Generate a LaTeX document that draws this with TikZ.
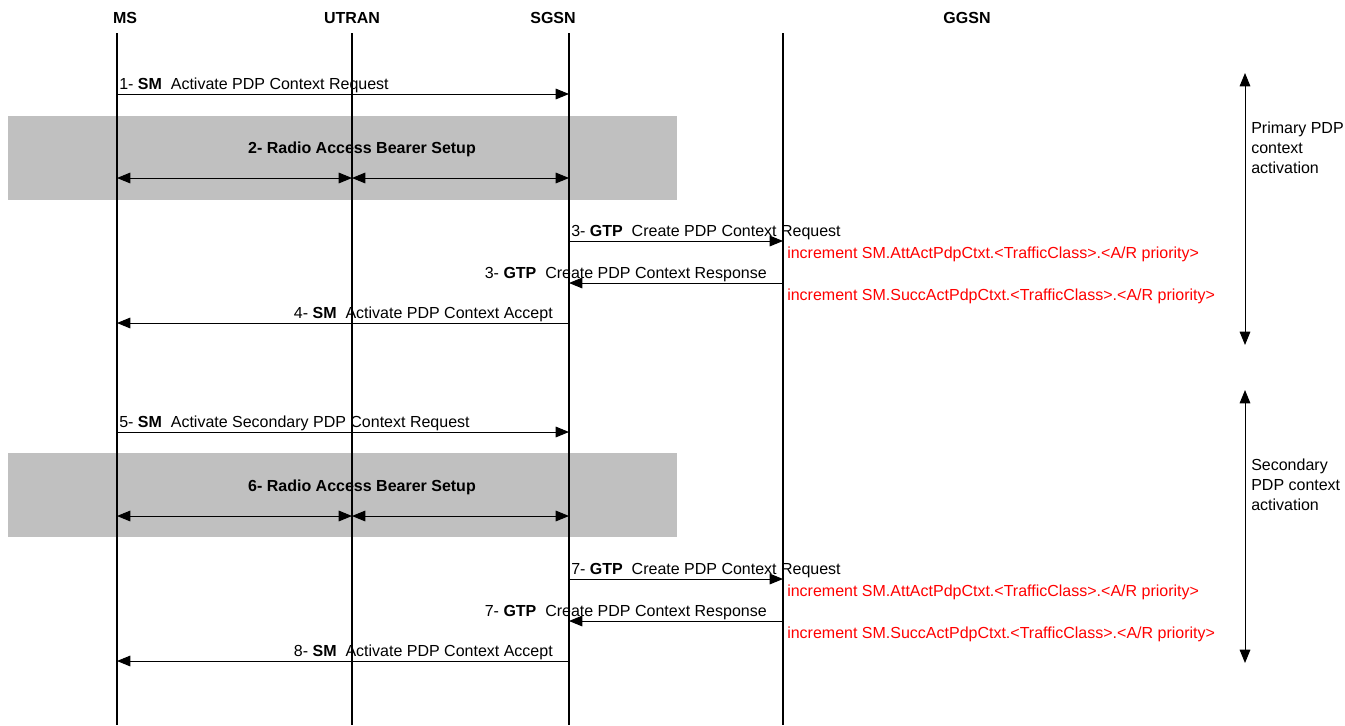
\documentclass[tikz,border=0pt]{standalone}
\usepackage{fontspec}
\setmainfont{Liberation Sans}
\usetikzlibrary{arrows.meta}
\definecolor{bandgray}{HTML}{C0C0C0}
\definecolor{ctrred}{HTML}{FF0000}
\begin{document}
\begin{tikzpicture}[x=0.75pt,y=-0.75pt,
 lifeline/.style={line width=1.5pt},
 msg/.style={line width=0.75pt,-{Triangle[length=10pt,width=8pt]}},
 bimsg/.style={line width=0.75pt,{Triangle[length=10pt,width=8pt]}-{Triangle[length=10pt,width=8pt]}},
 lbl/.style={inner sep=0pt,font=\fontsize{12}{15}\selectfont},
 head/.style={inner sep=0pt,font=\fontsize{12}{15}\selectfont\bfseries},
 ctr/.style={inner sep=0pt,font=\fontsize{12}{15}\selectfont,text=ctrred,anchor=base west},
 band/.style={fill=bandgray,draw=none}
]
\useasboundingbox (0,0) rectangle (1345,725);

% gray bands
\fill[band] (8,116) rectangle (677,200);
\fill[band] (8,453) rectangle (677,537);

% headers
\node[head,anchor=base] (msH) at (125,23) {MS};
\node[head,anchor=base] (utH) at (352,23) {UTRAN};
\node[head,anchor=base] (sgH) at (553,23) {SGSN};
\node[head,anchor=base] (ggH) at (967,23) {GGSN};

% lifelines
\coordinate (msT) at (117,33); \coordinate (msB) at (117,725);
\coordinate (utT) at (352,33); \coordinate (utB) at (352,725);
\coordinate (sgT) at (569,33); \coordinate (sgB) at (569,725);
\coordinate (ggT) at (783,33); \coordinate (ggB) at (783,725);
\draw[lifeline] (msT) -- (msB);
\draw[lifeline] (utT) -- (utB);
\draw[lifeline] (sgT) -- (sgB);
\draw[lifeline] (ggT) -- (ggB);

% ===== primary =====
\coordinate (m1a) at (117,94); \coordinate (m1b) at (569,94);
\draw[msg] (m1a) -- (m1b);
\node[lbl,anchor=base west] (l1) at (119,89.5) {1-\ \textbf{SM}\ \ Activate PDP Context Request};

\node[head,anchor=base] (b2) at (362,153) {2- Radio Access Bearer Setup};
\coordinate (r2a) at (117,178); \coordinate (r2b) at (352,178); \coordinate (r2c) at (569,178);
\draw[bimsg] (r2a) -- (r2b);
\draw[bimsg] (r2b) -- (r2c);

\coordinate (m3a) at (569,241); \coordinate (m3b) at (783,241);
\draw[msg] (m3a) -- (m3b);
\node[lbl,anchor=base west] (l3) at (571,236) {3-\ \textbf{GTP}\ \ Create PDP Context Request};
\node[ctr] (c3a) at (787,258) {increment SM.AttActPdpCtxt.<TrafficClass>.<A/R priority>};

\coordinate (m3c) at (783,283); \coordinate (m3d) at (569,283);
\draw[msg] (m3c) -- (m3d);
\node[lbl,anchor=base east] (l3r) at (767,278) {3-\ \textbf{GTP}\ \ Create PDP Context Response};
\node[ctr] (c3b) at (787,300) {increment SM.SuccActPdpCtxt.<TrafficClass>.<A/R priority>};

\coordinate (m4a) at (569,323); \coordinate (m4b) at (117,323);
\draw[msg] (m4a) -- (m4b);
\node[lbl,anchor=base east] (l4) at (553,318.5) {4-\ \textbf{SM}\ \ Activate PDP Context Accept};

\coordinate (p1t) at (1245,73); \coordinate (p1b) at (1245,345);
\draw[bimsg] (p1t) -- (p1b);
\node[lbl,anchor=north west,align=left] (pt1) at (1251,121.5) {Primary PDP\\context\\activation};

% ===== secondary =====
\coordinate (m5a) at (117,432); \coordinate (m5b) at (569,432);
\draw[msg] (m5a) -- (m5b);
\node[lbl,anchor=base west] (l5) at (119,427.5) {5-\ \textbf{SM}\ \ Activate Secondary PDP Context Request};

\node[head,anchor=base] (b6) at (362,491) {6- Radio Access Bearer Setup};
\coordinate (r6a) at (117,516); \coordinate (r6b) at (352,516); \coordinate (r6c) at (569,516);
\draw[bimsg] (r6a) -- (r6b);
\draw[bimsg] (r6b) -- (r6c);

\coordinate (m7a) at (569,579); \coordinate (m7b) at (783,579);
\draw[msg] (m7a) -- (m7b);
\node[lbl,anchor=base west] (l7) at (571,574) {7-\ \textbf{GTP}\ \ Create PDP Context Request};
\node[ctr] (c7a) at (787,596) {increment SM.AttActPdpCtxt.<TrafficClass>.<A/R priority>};

\coordinate (m7c) at (783,621); \coordinate (m7d) at (569,621);
\draw[msg] (m7c) -- (m7d);
\node[lbl,anchor=base east] (l7r) at (767,616) {7-\ \textbf{GTP}\ \ Create PDP Context Response};
\node[ctr] (c7b) at (787,638) {increment SM.SuccActPdpCtxt.<TrafficClass>.<A/R priority>};

\coordinate (m8a) at (569,661); \coordinate (m8b) at (117,661);
\draw[msg] (m8a) -- (m8b);
\node[lbl,anchor=base east] (l8) at (553,656.5) {8-\ \textbf{SM}\ \ Activate PDP Context Accept};

\coordinate (p2t) at (1245,390); \coordinate (p2b) at (1245,663);
\draw[bimsg] (p2t) -- (p2b);
\node[lbl,anchor=north west,align=left] (pt2) at (1251,458.5) {Secondary\\PDP context\\activation};
\end{tikzpicture}
\end{document}
